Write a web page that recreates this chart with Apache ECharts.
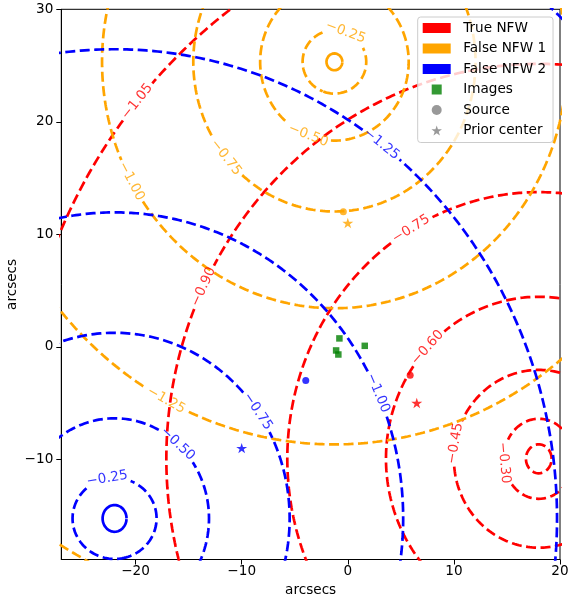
<!DOCTYPE html>
<html><head><meta charset="utf-8">
<script src="https://cdn.jsdelivr.net/npm/echarts@6/dist/echarts.min.js"></script>
<style>html,body{margin:0;padding:0;background:#fff}#c{width:568px;height:600px}</style>
</head><body><div id="c"></div>
<script>
// ---- axes ----
const xTicks = [-20, -10, 0, 10, 20];
const yTicks = [-10, 0, 10, 20, 30];

// ---- True NFW contours (center, radii in arcsec, level labels, label angle on contour in deg) ----
const trueCenter = [18.0, -9.95];
const trueLevels = ['−0.15', '−0.30', '−0.45', '−0.60', '−0.75', '−0.90', '−1.05'];
const trueRx = [1.21, 3.3, 8.0, 14.4, 23.7, 35.1, 49.4];
const trueRy = [1.29, 3.56, 7.9, 14.4, 23.7, 35.1, 49.4];
const trueLabelAt = [null, 185.8, 170, 136.7, 120.5, 154.2, 140];
const trueSolid = [false, false, false, false, false, false, false];

// ---- False NFW 1 contours ----
const false1Center = [-1.26, 25.33];
const false1Levels = ['0.00', '−0.25', '−0.50', '−0.75', '−1.00', '−1.25', '−1.50'];
const false1Rx = [0.75, 3.0, 7.0, 13.3, 21.9, 34.0, 50.1];
const false1Ry = [0.75, 2.82, 7.0, 13.3, 21.9, 34.0, 50.1];
const false1LabelAt = [null, 69.5, 249.3, 219.7, 209, 242.2, null];
const false1Solid = [true, false, false, false, false, false, false];

// ---- False NFW 2 contours ----
const false2Center = [-21.98, -15.25];
const false2Levels = ['0.00', '−0.25', '−0.50', '−0.75', '−1.00', '−1.25', '−1.50'];
const false2Rx = [1.13, 3.96, 8.9, 16.5, 27.2, 41.7, 61.25];
const false2Ry = [1.19, 3.6, 8.9, 16.5, 27.2, 41.7, 61.25];
const false2LabelAt = [null, 100, 48.1, 35.2, 24.2, 52.9, null];
const false2Solid = [true, false, false, false, false, false, false];

// ---- points ----
const imagesX = [-0.79, -1.10, -0.89, 1.60];
const imagesY = [0.75, -0.32, -0.68, 0.09];
// order: True NFW, False NFW 1, False NFW 2
const sourceX = [5.88, -0.42, -3.96];
const sourceY = [-2.52, 12.0, -2.99];
const priorX = [6.5, 0.0, -10.0];
const priorY = [-5.0, 11.0, -9.0];

const RED = '#ff0000', ORANGE = '#ffa500', BLUE = '#0000ff', GREEN = '#008000', GRAY = '#808080';
const pointColors = [RED, ORANGE, BLUE];
const FONT = 'DejaVu Sans';
const FS = 13.6;
const STAR = 'path://M0,-100L22.45,-30.9L95.11,-30.9L36.33,11.8L58.78,80.9L0,38.2L-58.78,80.9L-36.33,11.8L-95.11,-30.9L-22.45,-30.9Z';
const SQUARE = 'path://M0,0L10,0L10,10L0,10Z';
const fmt = v => (v < 0 ? '−' + Math.abs(v) : String(v));

const chart = echarts.init(document.getElementById('c'), null, {renderer: 'canvas'});
const axisCommon = {
  axisLine: {show: true, onZero: false, lineStyle: {color: '#000', width: 1}},
  splitLine: {show: false},
  nameLocation: 'middle',
  nameMoveOverlap: false,
  nameTextStyle: {fontFamily: FONT, fontSize: FS, color: '#000'}
};
chart.setOption({
  animation: false,
  backgroundColor: '#fff',
  grid: {left: 61.3, right: 8, top: 9.3, bottom: 40.5, show: true, borderColor: '#000', borderWidth: 1,
         backgroundColor: 'transparent', containLabel: false, outerBoundsMode: 'none'},
  xAxis: Object.assign({}, axisCommon, {
    type: 'value', min: -27, max: 20, name: 'arcsecs', nameGap: 24,
    axisTick: {show: true, customValues: xTicks, length: 5, lineStyle: {color: '#000', width: 1}},
    axisLabel: {customValues: xTicks, formatter: fmt, fontFamily: FONT, fontSize: FS, color: '#000', margin: 5}
  }),
  yAxis: Object.assign({}, axisCommon, {
    type: 'value', min: -18.9, max: 30, name: 'arcsecs', nameGap: 42,
    axisTick: {show: true, customValues: yTicks, length: 5, lineStyle: {color: '#000', width: 1}},
    axisLabel: {customValues: yTicks, formatter: fmt, fontFamily: FONT, fontSize: FS, color: '#000', margin: 8}
  }),
  series: []
});

const toPx = p => chart.convertToPixel({gridIndex: 0}, p);
const HALF_GAP = 23;

function family(name, color, center, rx, ry, levels, labelAt, solid) {
  const dashed = [], solidPts = [], labels = [];
  for (let i = 0; i < levels.length; i++) {
    const at = labelAt[i];
    const pt = deg => {
      const a = deg * Math.PI / 180;
      return [center[0] + rx[i] * Math.cos(a), center[1] + ry[i] * Math.sin(a)];
    };
    let anchor = null;
    if (at != null) {
      const lp = pt(at);
      anchor = toPx(lp);
      const p1 = toPx(pt(at - 0.5)), p2 = toPx(pt(at + 0.5));
      let ang = Math.atan2(-(p2[1] - p1[1]), p2[0] - p1[0]) * 180 / Math.PI;
      if (ang > 90) ang -= 180;
      if (ang < -90) ang += 180;
      labels.push({name: levels[i], value: lp, label: {rotate: ang}});
    }
    const target = solid[i] ? solidPts : dashed;
    const start = at != null ? at + 180 : 0;
    for (let k = 0; k <= 720; k++) {
      const p = pt(start + k * 0.5);
      if (anchor) {
        const q = toPx(p);
        if (Math.hypot(q[0] - anchor[0], q[1] - anchor[1]) < HALF_GAP) {
          if (target.length && target[target.length - 1][0] !== '-') target.push(['-', '-']);
          continue;
        }
      }
      target.push(p);
    }
    target.push(['-', '-']);
  }
  const out = [{
    name: name, type: 'line', data: dashed, showSymbol: false, symbol: 'none', connectNulls: false,
    lineStyle: {color: color, width: 2.7, type: [10, 4.5]}, itemStyle: {color: color}, silent: true, z: 2
  }];
  if (solidPts.length) out.push({
    name: name, type: 'line', data: solidPts, showSymbol: false, symbol: 'none', connectNulls: false,
    lineStyle: {color: color, width: 2.7, type: 'solid'}, itemStyle: {color: color}, silent: true, z: 2
  });
  out.push({
    name: name + ' labels', type: 'scatter', data: labels, symbolSize: 1, itemStyle: {color: 'transparent'},
    label: {show: true, position: 'inside', formatter: '{b}', color: color, fontFamily: FONT, fontSize: FS},
    silent: true, z: 3
  });
  return out;
}

let series = [];
series = series.concat(family('True NFW', RED, trueCenter, trueRx, trueRy, trueLevels, trueLabelAt, trueSolid));
series = series.concat(family('False NFW 1', ORANGE, false1Center, false1Rx, false1Ry, false1Levels, false1LabelAt, false1Solid));
series = series.concat(family('False NFW 2', BLUE, false2Center, false2Rx, false2Ry, false2Levels, false2LabelAt, false2Solid));

series.push({
  name: 'Images', type: 'scatter', symbol: 'rect', symbolSize: 6.5,
  data: imagesX.map((x, i) => [x, imagesY[i]]), itemStyle: {color: GREEN}, z: 5, silent: true
});
series.push({
  name: 'Source', type: 'scatter', symbol: 'circle', symbolSize: 7,
  data: sourceX.map((x, i) => ({value: [x, sourceY[i]], itemStyle: {color: pointColors[i]}})),
  itemStyle: {color: GRAY}, z: 5, silent: true
});
series.push({
  name: 'Prior center', type: 'scatter', symbol: STAR, symbolSize: 11, symbolKeepAspect: true,
  data: priorX.map((x, i) => ({value: [x, priorY[i]], itemStyle: {color: pointColors[i]}})),
  itemStyle: {color: GRAY}, z: 5, silent: true
});

chart.setOption({
  legend: {
    orient: 'vertical', left: 417.7, top: 17, itemWidth: 28, itemHeight: 10, itemGap: 6.5,
    padding: [4, 7, 5, 5], backgroundColor: 'rgba(255,255,255,0.8)', borderColor: '#cccccc',
    borderWidth: 1, borderRadius: 3, selectedMode: false,
    textStyle: {fontFamily: FONT, fontSize: FS, color: '#000', lineHeight: 14, padding: [0, 0, 0, 7.5]},
    data: [
      {name: 'True NFW', icon: 'rect', itemStyle: {color: RED, borderWidth: 0}},
      {name: 'False NFW 1', icon: 'rect', itemStyle: {color: ORANGE, borderWidth: 0}},
      {name: 'False NFW 2', icon: 'rect', itemStyle: {color: BLUE, borderWidth: 0}},
      {name: 'Images', icon: SQUARE, itemStyle: {color: GREEN, borderWidth: 0}},
      {name: 'Source', icon: 'circle', itemStyle: {color: GRAY, borderWidth: 0}},
      {name: 'Prior center', icon: STAR, itemStyle: {color: GRAY, borderWidth: 0}}
    ]
  },
  series: series
});
</script>
</body></html>
